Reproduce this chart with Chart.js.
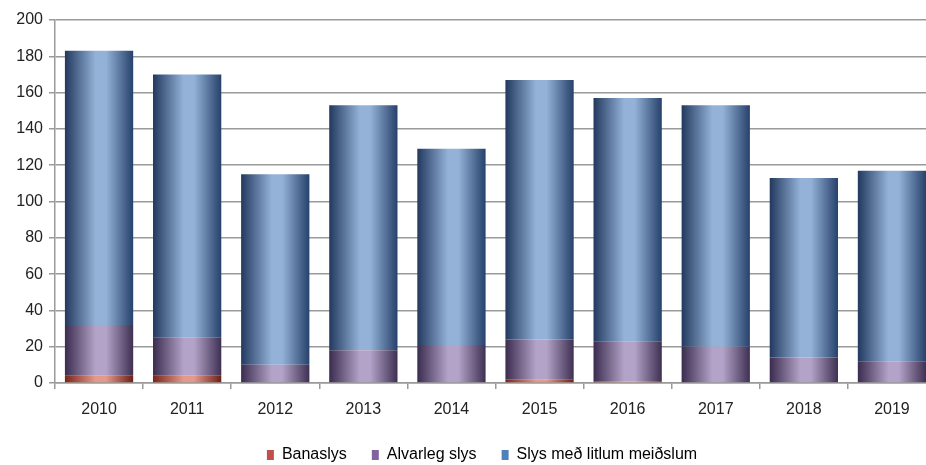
<!DOCTYPE html>
<html>
<head>
<meta charset="utf-8">
<script src="https://cdn.jsdelivr.net/npm/chart.js@4/dist/chart.umd.min.js"></script>
<style>
  html, body { margin: 0; padding: 0; background: #fff; overflow: hidden; }
  /* le graphe d'origine est coupe a droite : canvas plus large que la fenetre */
  #wrap { width: 940px; height: 465px; }
</style>
</head>
<body>
<div id="wrap"><canvas id="chart"></canvas></div>
<script>
// donnees
const years = ['2010', '2011', '2012', '2013', '2014', '2015', '2016', '2017', '2018', '2019'];
const banaslys = [4, 4, 0, 0, 0, 2, 1, 0, 0, 0];
const alvarleg = [28, 21, 10, 18, 21, 22, 22, 20, 14, 12];
const litlum = [151, 145, 105, 135, 108, 143, 134, 133, 99, 105];
const yTicks = [0, 20, 40, 60, 80, 100, 120, 140, 160, 180, 200];

const catPct = 0.775;
const barPct = 1.0;
const police = "'Liberation Sans', Arial, sans-serif";

// degrade "cylindre" : bords sombres, centre clair
function cylinder(dark, light, dark2) {
    return (ctx) => {
        const chart = ctx.chart;
        const xs = chart.scales.x;
        if (!xs || ctx.dataIndex === undefined) return light;
        const cx = xs.getPixelForValue(ctx.dataIndex);
        const w = (xs.right - xs.left) / years.length * catPct * barPct;
        const g = chart.ctx.createLinearGradient(cx - w / 2, 0, cx + w / 2, 0);
        g.addColorStop(0, dark);
        g.addColorStop(0.45, light);
        g.addColorStop(0.6, light);
        g.addColorStop(1, dark2);
        return g;
    };
}

const legendColors = ['#c0504d', '#8064a2', '#4f81bd'];

// hauteur fixe de la legende + petit decalage horizontal
const legendFix = {
    id: 'legendFix',
    beforeUpdate(chart) {
        const lg = chart.legend;
        if (!lg || lg._patched) return;
        const fit = lg.fit.bind(lg);
        lg.fit = function () { fit(); this.height = 43; };
        const draw = lg.draw.bind(lg);
        lg.draw = function () {
            const c = this.ctx;
            c.save();
            c.translate(12, 0);
            draw();
            c.restore();
        };
        lg._patched = true;
    }
};

new Chart(document.getElementById('chart'), {
    type: 'bar',
    data: {
        labels: years,
        datasets: [
            { label: 'Banaslys', data: banaslys, backgroundColor: cylinder('#7a2418', '#e39a8c', '#6e1f16') },
            { label: 'Alvarleg slys', data: alvarleg, backgroundColor: cylinder('#3a2c4e', '#b4a3c8', '#3e3052') },
            { label: 'Slys með litlum meiðslum', data: litlum, backgroundColor: cylinder('#22395e', '#94b2d8', '#26416a') }
        ]
    },
    plugins: [legendFix],
    options: {
        responsive: true,
        maintainAspectRatio: false,
        animation: false,
        layout: { padding: { top: 20, right: 4, left: 4, bottom: 0 } },
        datasets: {
            bar: { categoryPercentage: catPct, barPercentage: barPct, borderWidth: 0 }
        },
        plugins: {
            tooltip: { enabled: false },
            legend: {
                position: 'bottom',
                labels: {
                    color: '#222',
                    font: { family: police, size: 16 },
                    boxWidth: 7,
                    boxHeight: 10,
                    padding: 25,
                    generateLabels: (chart) => chart.data.datasets.map((ds, i) => ({
                        text: ds.label,
                        fillStyle: legendColors[i],
                        strokeStyle: legendColors[i],
                        lineWidth: 0,
                        hidden: false,
                        datasetIndex: i
                    }))
                }
            }
        },
        scales: {
            x: {
                stacked: true,
                afterFit: (axis) => { axis.height = 39; },
                grid: { display: true, drawOnChartArea: false, offset: true, color: '#9a9a9a', lineWidth: 1.5, tickLength: 6 },
                border: { color: '#9a9a9a', width: 1.5 },
                ticks: { color: '#222', font: { family: police, size: 16 }, padding: 11 }
            },
            y: {
                stacked: true,
                min: 0,
                max: 200,
                afterFit: (axis) => { axis.width = 51; },
                afterBuildTicks: (axis) => { axis.ticks = yTicks.map(v => ({ value: v })); },
                grid: { color: '#9a9a9a', lineWidth: 1.5, tickLength: 6 },
                border: { color: '#9a9a9a', width: 1.5 },
                ticks: { color: '#222', font: { family: police, size: 16 }, padding: 6 }
            }
        }
    }
});
</script>
</body>
</html>
